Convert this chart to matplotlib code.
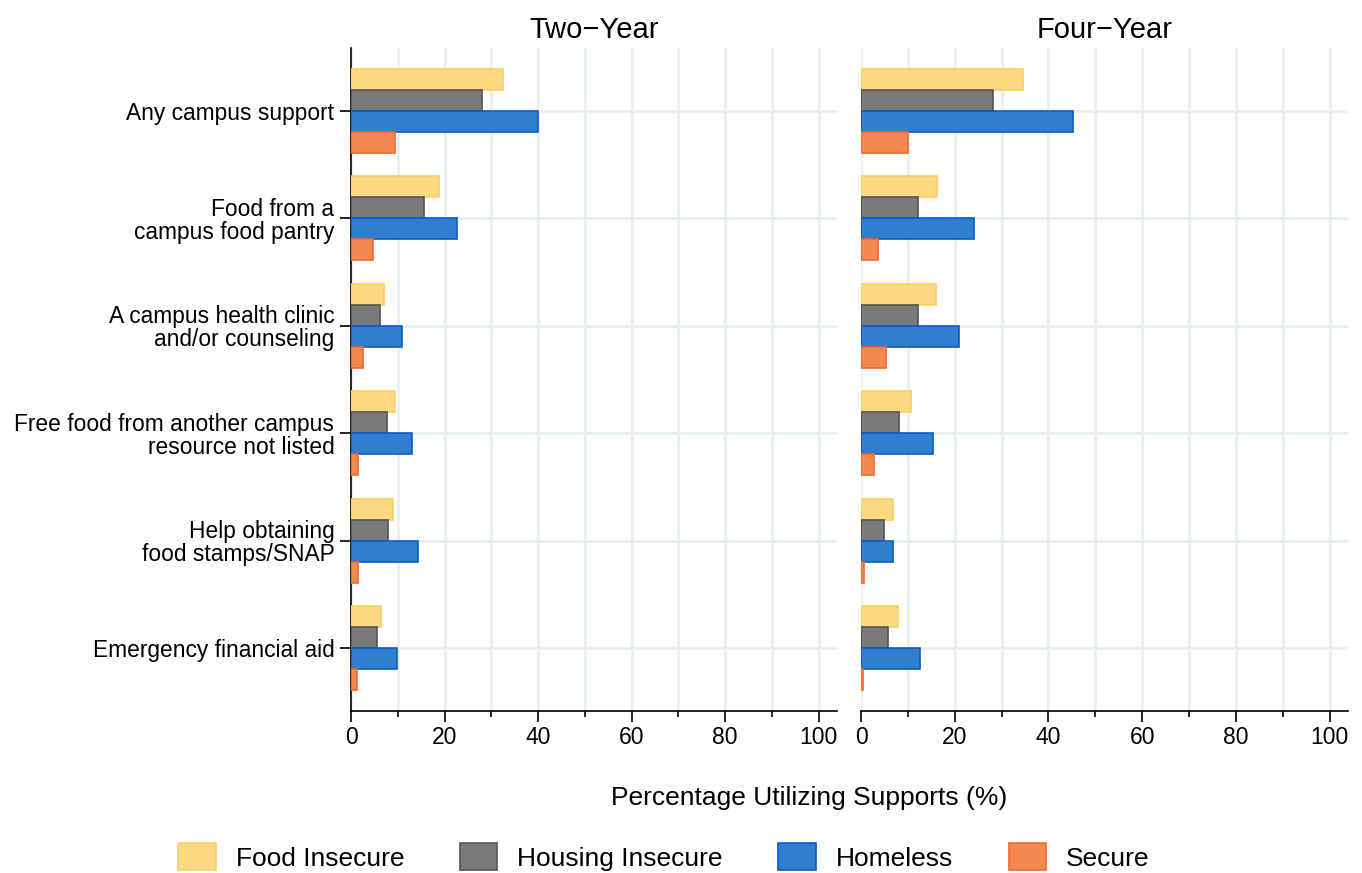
import numpy as np
import matplotlib.pyplot as plt
from matplotlib.patches import Patch

plt.rcParams['font.family'] = ['Liberation Sans', 'DejaVu Sans']

# categories (top to bottom)
categories = [
    "Any campus support",
    "Food from a\ncampus food pantry",
    "A campus health clinic\nand/or counseling",
    "Free food from another campus\nresource not listed",
    "Help obtaining\nfood stamps/SNAP",
    "Emergency financial aid",
]
panels = ["Two\u2212Year", "Four\u2212Year"]
series = ["Food Insecure", "Housing Insecure", "Homeless", "Secure"]

# values (%) - two-year
two_food = [32.6, 18.9, 7.1, 9.5, 9.0, 6.5]
two_housing = [27.9, 15.5, 6.1, 7.6, 8.0, 5.5]
two_homeless = [40.0, 22.7, 11.0, 13.0, 14.3, 9.8]
two_secure = [9.3, 4.8, 2.6, 1.4, 1.6, 1.2]

# values (%) - four-year
four_food = [34.5, 16.3, 15.9, 10.6, 6.8, 7.8]
four_housing = [28.1, 12.1, 12.1, 8.2, 5.0, 5.8]
four_homeless = [45.2, 24.2, 21.0, 15.3, 6.8, 12.5]
four_secure = [10.1, 3.7, 5.4, 2.8, 0.7, 0.5]

fill_colors = ["#FDD984", "#7A7A7A", "#317ECF", "#F38851"]
edge_colors = ["#FCCF60", "#545454", "#0B5EC6", "#F16A2A"]
grid_color = "#E8F0F2"

data = {
    panels[0]: [two_food, two_housing, two_homeless, two_secure],
    panels[1]: [four_food, four_housing, four_homeless, four_secure],
}

fig = plt.figure(figsize=(13.62, 8.73), dpi=100)
ax_left = fig.add_axes([351 / 1362, 1 - 711 / 873, 486 / 1362, 663 / 873])
ax_right = fig.add_axes([861 / 1362, 1 - 711 / 873, 487 / 1362, 663 / 873])

y = np.arange(len(categories))
bar_h = 0.195
offsets = [-1.5, -0.5, 0.5, 1.5]

for ax, panel in zip([ax_left, ax_right], panels):
    for i, vals in enumerate(data[panel]):
        ax.barh(y + offsets[i] * bar_h, vals, height=bar_h,
                color=fill_colors[i], edgecolor=edge_colors[i],
                linewidth=1.2, zorder=3)
    ax.set_xlim(0, 103.9)
    ax.set_ylim(len(categories) - 0.415, -0.585)
    ax.set_xticks([0, 20, 40, 60, 80, 100])
    ax.set_xticks([10, 30, 50, 70, 90], minor=True)
    ax.set_yticks(y)
    # grid lines
    for gx in range(0, 101, 10):
        ax.axvline(gx, color=grid_color, lw=2, zorder=0)
    for gy in y:
        ax.axhline(gy, color=grid_color, lw=2, zorder=0)
    ax.tick_params(axis='x', which='major', length=8, width=1.2, labelsize=16.5, pad=3)
    ax.tick_params(axis='x', which='minor', length=4, width=1.2)
    for side in ["top", "right"]:
        ax.spines[side].set_visible(False)
    ax.spines["bottom"].set_linewidth(1.2)
    ax.spines["left"].set_linewidth(1.2)
    ax.set_title(panel, fontsize=21, pad=7)

ax_left.set_yticklabels(categories, fontsize=16.4, linespacing=1.0)
ax_left.tick_params(axis='y', length=8, width=1.2, pad=4)
ax_right.spines["left"].set_visible(False)
ax_right.tick_params(axis='y', left=False, labelleft=False)

fig.text(809 / 1362, 1 - 798 / 873, "Percentage Utilizing Supports (%)",
         ha='center', va='center', fontsize=19)

handles = [Patch(facecolor=fill_colors[i], edgecolor=edge_colors[i], linewidth=1.2)
           for i in range(len(series))]
fig.legend(handles, series, loc='center', bbox_to_anchor=(664 / 1362, 1 - 857 / 873),
           ncol=4, frameon=False, fontsize=19, handlelength=1.42, handleheight=1.2,
           handletextpad=0.76, columnspacing=2.1)

fig.savefig("out.png", dpi=100)
